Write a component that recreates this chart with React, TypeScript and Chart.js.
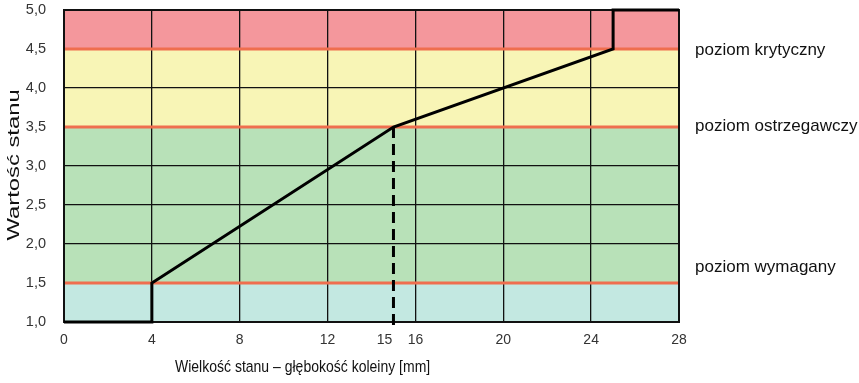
import React, { useEffect, useRef } from "react";
import { Chart, registerables } from "chart.js";

Chart.register(...registerables);

// ---- data ----
const xTickValues = [0, 4, 8, 12, 15, 16, 20, 24, 28];
const xGridValues = [0, 4, 8, 12, 16, 20, 24, 28];
const curveX = [0, 4, 4, 15, 25, 25, 28];
const curveY = [1.0, 1.0, 1.5, 3.5, 4.5, 5.0, 5.0];
const dashX = [15, 15];
const dashY = [3.5, 0.92];
const bandFrom = [1.0, 1.5, 3.5, 4.5];
const bandTo = [1.5, 3.5, 4.5, 5.0];
const levelValues = [4.5, 3.5, 1.5];
const levelNames = ["poziom krytyczny", "poziom ostrzegawczy", "poziom wymagany"];
const levelLabelAt = [4.42, 3.45, 1.64];
const yTitle = "Wartość stanu";
const xTitle = "Wielkość stanu – głębokość koleiny [mm]";

const FONT = '"Liberation Sans", Arial, sans-serif';
const bandColors = ["#c3e8e1", "#b8e1b8", "#f8f5b6", "#f4979c"];

const decor = {
  id: "decor",
  beforeDraw(chart: any) {
    const { ctx, chartArea, scales } = chart;
    const y = scales.y;
    ctx.save();
    for (let i = 0; i < bandFrom.length; i++) {
      const top = y.getPixelForValue(bandTo[i]);
      const bot = y.getPixelForValue(bandFrom[i]);
      ctx.fillStyle = bandColors[i];
      ctx.fillRect(chartArea.left, top, chartArea.right - chartArea.left, bot - top);
    }
    ctx.restore();
  },
  beforeDatasetsDraw(chart: any) {
    const { ctx, chartArea, scales } = chart;
    const y = scales.y;
    ctx.save();
    ctx.strokeStyle = "#ef6e4e";
    ctx.lineWidth = 3;
    for (const v of levelValues) {
      const py = y.getPixelForValue(v);
      ctx.beginPath();
      ctx.moveTo(chartArea.left, py);
      ctx.lineTo(chartArea.right, py);
      ctx.stroke();
    }
    ctx.strokeStyle = "#111";
    ctx.lineWidth = 2;
    ctx.strokeRect(
      chartArea.left,
      chartArea.top,
      chartArea.right - chartArea.left,
      chartArea.bottom - chartArea.top
    );
    ctx.restore();
  },
  afterDraw(chart: any) {
    const { ctx, chartArea, scales } = chart;
    const x = scales.x;
    const y = scales.y;
    // x tick labels
    ctx.save();
    ctx.fillStyle = "#333";
    ctx.font = `14px ${FONT}`;
    ctx.textAlign = "center";
    ctx.textBaseline = "alphabetic";
    for (const v of xTickValues) {
      const off = v === 15 ? -9 : 0;
      ctx.save();
      ctx.translate(x.getPixelForValue(v) + off, chartArea.bottom + 22);
      ctx.scale(1, 1.08);
      ctx.fillText(String(v), 0, 0);
      ctx.restore();
    }
    // level labels
    ctx.fillStyle = "#111";
    ctx.font = `17px ${FONT}`;
    ctx.textAlign = "left";
    for (let i = 0; i < levelNames.length; i++) {
      ctx.fillText(levelNames[i], chartArea.right + 16, y.getPixelForValue(levelLabelAt[i]));
    }
    // x title
    ctx.save();
    ctx.font = `14px ${FONT}`;
    ctx.translate(chartArea.left + 111, chartArea.bottom + 50);
    ctx.scale(1, 1.12);
    ctx.fillText(xTitle, 0, 0);
    ctx.restore();
    // y title
    ctx.save();
    ctx.font = `17px ${FONT}`;
    ctx.textAlign = "center";
    ctx.translate(19, (chartArea.top + chartArea.bottom) / 2 - 1);
    ctx.rotate(-Math.PI / 2);
    ctx.scale(1.4, 1);
    ctx.fillText(yTitle, 0, 0);
    ctx.restore();
    ctx.restore();
  },
};

export default function App() {
  const ref = useRef<HTMLCanvasElement | null>(null);
  useEffect(() => {
    document.body.style.margin = "0";
    const canvas = ref.current!;
    const chart = new Chart(canvas, {
      type: "line",
      data: {
        datasets: [
          {
            data: curveX.map((v, i) => ({ x: v, y: curveY[i] })),
            borderColor: "#000",
            borderWidth: 3,
            pointRadius: 0,
            tension: 0,
            clip: false as any,
            borderJoinStyle: "miter",
          },
          {
            data: dashX.map((v, i) => ({ x: v, y: dashY[i] })),
            borderColor: "#000",
            borderWidth: 3,
            borderDash: [11, 6],
            pointRadius: 0,
            clip: false as any,
          },
        ],
      },
      options: {
        animation: false,
        responsive: false,
        events: [],
        layout: { autoPadding: false, padding: { top: 10, right: 180, left: 0, bottom: 0 } },
        plugins: { legend: { display: false }, tooltip: { enabled: false } },
        scales: {
          x: {
            type: "linear",
            min: 0,
            max: 28,
            afterBuildTicks: (s: any) => {
              s.ticks = xGridValues.map((v) => ({ value: v }));
            },
            afterFit: (s: any) => {
              s.height = 61;
              s.paddingLeft = 0;
              s.paddingRight = 0;
              s.paddingTop = 0;
              s.paddingBottom = 0;
            },
            ticks: { display: false },
            grid: { color: "#111", lineWidth: 1.3, drawTicks: false },
            border: { display: false },
          },
          y: {
            type: "linear",
            min: 1,
            max: 5,
            afterFit: (s: any) => {
              s.width = 64;
              s.paddingLeft = 0;
              s.paddingRight = 0;
              s.paddingTop = 0;
              s.paddingBottom = 0;
            },
            ticks: {
              stepSize: 0.5,
              padding: 18,
              color: "#333",
              font: { family: FONT, size: 14.5 },
              callback: (v: any) => Number(v).toFixed(1).replace(".", ","),
            },
            grid: { color: "#111", lineWidth: 1.3, drawTicks: false },
            border: { display: false },
          },
        },
      },
      plugins: [decor],
    });
    return () => chart.destroy();
  }, []);
  return (
    <div style={{ width: 859, height: 383 }}>
      <canvas ref={ref} width={859} height={383} />
    </div>
  );
}
